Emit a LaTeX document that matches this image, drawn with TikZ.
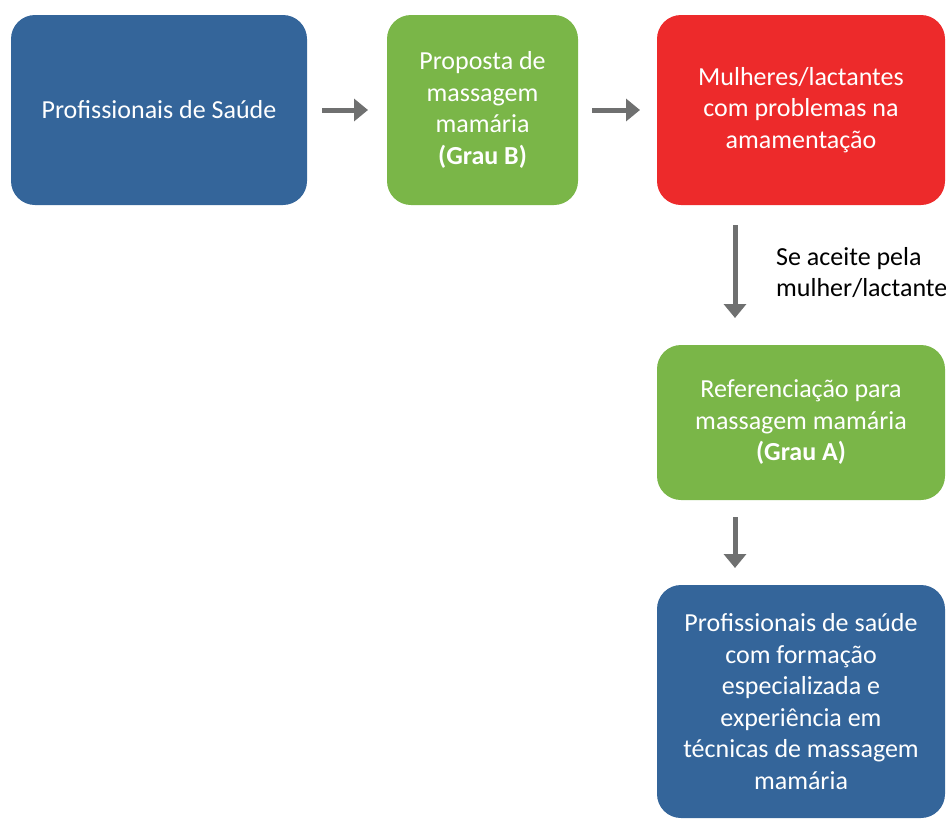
\documentclass[tikz,border=0pt]{standalone}
\usepackage{fontspec}
\setmainfont{Carlito}
\usepackage{tikz}
\usetikzlibrary{arrows.meta,positioning}
\definecolor{saudeblue}{HTML}{34659A}
\definecolor{saudegreen}{HTML}{7AB648}
\definecolor{saudered}{HTML}{ED2A2B}
\definecolor{saudegray}{HTML}{6F7070}
\tikzset{
  flowbox/.style={rectangle, rounded corners=24pt, draw=none, outer sep=0pt,
                  text=white, align=center, inner sep=6pt,
                  font=\fontsize{26}{31.5}\selectfont},
  bluebox/.style={flowbox, fill=saudeblue},
  greenbox/.style={flowbox, fill=saudegreen},
  redbox/.style={flowbox, fill=saudered},
  note/.style={align=left, text=black, inner sep=0pt,
               font=\fontsize{26}{31}\selectfont},
  flowarrow/.style={-{Triangle[length=14pt, width=22pt]}, line width=5pt, color=saudegray},
}

\begin{document}
\begin{tikzpicture}[node distance=80pt and 80pt]
\useasboundingbox (0,0) rectangle (946pt,-820pt);

\node[bluebox, minimum width=296pt, minimum height=190pt] (prof) at (159pt,-110pt) {Profissionais de Saúde};
\node[greenbox, minimum width=191pt, minimum height=190pt, right=80pt of prof] (prop) {Proposta de\\massagem\\mamária\\\textbf{(Grau B)}};
\node[redbox, minimum width=288pt, minimum height=190pt, right=79pt of prop] (mulh) {Mulheres/lactantes\\com problemas na\\amamentação};
\node[greenbox, minimum width=288pt, minimum height=155pt, below=140pt of mulh] (refe) {Referenciação para\\massagem mamária\\\textbf{(Grau A)}};
\node[bluebox, minimum width=288pt, minimum height=233pt, below=85pt of refe] (espe) {Profissionais de saúde\\com formação\\especializada e\\experiência em\\técnicas de massagem\\mamária};

\draw[flowarrow, shorten <=15pt, shorten >=19pt] (prof) -- (prop);
\draw[flowarrow, shorten <=14pt, shorten >=17pt] (prop) -- (mulh);
\draw[flowarrow, shorten <=20pt, shorten >=27pt] ([xshift=-66pt]mulh.south) -- ([xshift=-66pt]refe.north);
\draw[flowarrow, shorten <=17pt, shorten >=17pt] ([xshift=-66pt]refe.south) -- ([xshift=-66pt]espe.north);

\node[note, anchor=west] (cond) at ([xshift=-25pt, yshift=-68pt]mulh.south) {Se aceite pela\\mulher/lactante};
\end{tikzpicture}
\end{document}
